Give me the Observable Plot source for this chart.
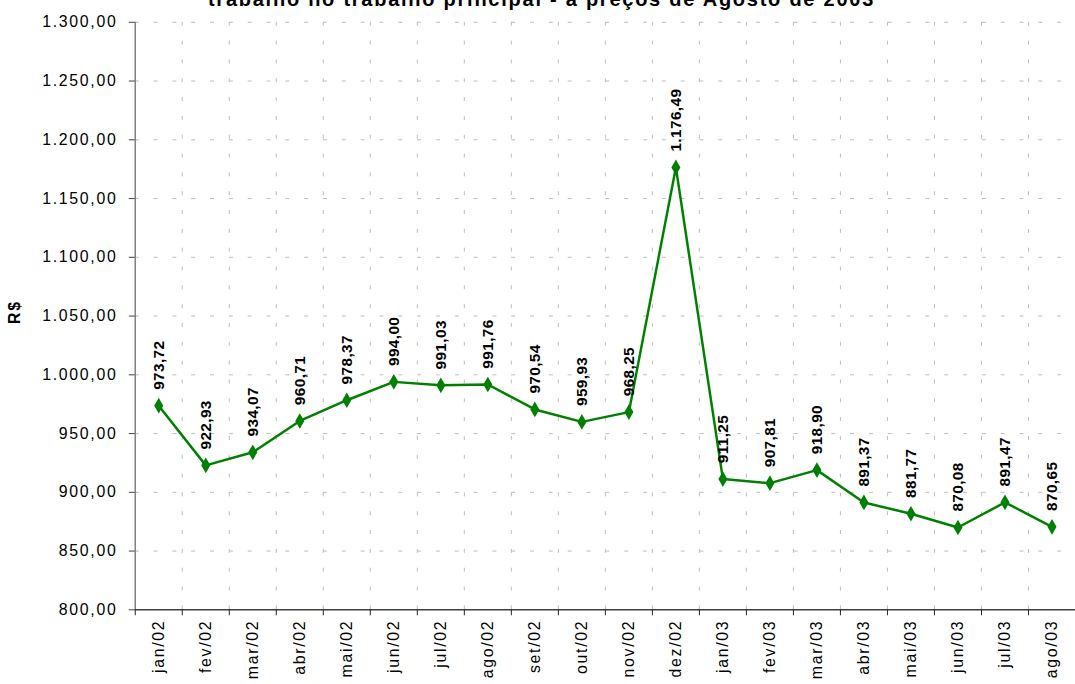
<!DOCTYPE html>
<html>
<head>
<meta charset="utf-8">
<script src="https://cdn.jsdelivr.net/npm/d3@7"></script>
<script src="https://cdn.jsdelivr.net/npm/@observablehq/plot@0.6"></script>
<style>
  html, body { margin: 0; padding: 0; background: #fff; overflow: hidden; width: 1075px; height: 684px; }
  #wrap { position: relative; width: 1075px; height: 684px; overflow: hidden; }
  #title { position: absolute; z-index: 2; left: 0; width: 1083px; top: -13px; text-align: center;
           font-family: "Liberation Sans", Arial, sans-serif; font-weight: bold; font-size: 20px;
           line-height: 24px; letter-spacing: 1.75px; color: #000; white-space: nowrap; }
  #chart { position: absolute; z-index: 1; left: 0; top: 0; }
  #chart svg text { letter-spacing: 1.7px; }
  #chart svg g.vals text { letter-spacing: 0.4px; }
</style>
</head>
<body>
<div id="wrap">
  <div id="chart"></div>
  <div id="title">trabalho no trabalho principal - a preços de Agosto de 2003</div>
</div>
<script>
const months = ["jan/02","fev/02","mar/02","abr/02","mai/02","jun/02","jul/02","ago/02","set/02","out/02","nov/02","dez/02",
                "jan/03","fev/03","mar/03","abr/03","mai/03","jun/03","jul/03","ago/03"];
const values = [973.72, 922.93, 934.07, 960.71, 978.37, 994.00, 991.03, 991.76, 970.54, 959.93, 968.25, 1176.49,
                911.25, 907.81, 918.90, 891.37, 881.77, 870.08, 891.47, 870.65];
const yTicks = [800, 850, 900, 950, 1000, 1050, 1100, 1150, 1200, 1250, 1300];
const yLabel = "R$";

const fmt = v => d3.format(",.2f")(v).replace(/,/g, "#").replace(/\./g, ",").replace(/#/g, ".");
const data = months.map((m, i) => ({i, m, v: values[i]}));
const idx = months.map((m, i) => i);
const bounds = months.map((m, i) => i + 0.5).concat([-0.5]);

const chart = Plot.plot({
  width: 1085,
  height: 700,
  marginLeft: 136,
  marginRight: 0,
  marginTop: 22,
  marginBottom: 85,
  style: {fontFamily: "'Liberation Sans', Arial, sans-serif", fontSize: "16px", color: "#000", background: "#fff"},
  x: {type: "linear", domain: [-0.5, months.length - 0.5]},
  y: {domain: [800, 1300]},
  marks: [
    Plot.ruleY(yTicks.slice(1), {stroke: "#bdbdbd", strokeDasharray: "4,15", strokeWidth: 1}),
    Plot.ruleX(bounds.slice(0, months.length - 1), {stroke: "#bdbdbd", strokeDasharray: "4,15", strokeWidth: 1, y1: 1300, y2: 800}),
    Plot.ruleX([-0.5], {stroke: "#808080", strokeWidth: 1.5, y1: 800, y2: 1300}),
    Plot.ruleY([800], {stroke: "#404040", strokeWidth: 1.5}),
    Plot.axisY({ticks: yTicks, tickFormat: fmt, tickSize: 6, tickPadding: 12, stroke: "#404040", label: null}),
    Plot.axisX({ticks: bounds, tickFormat: () => "", tickSize: 6, stroke: "#202020", label: null}),
    Plot.axisX({ticks: idx, tickFormat: i => months[i], tickSize: 0, tickPadding: 10, tickRotate: -90, label: null}),
    Plot.line(data, {x: "i", y: "v", stroke: "#008000", strokeWidth: 2.5}),
    Plot.dot(data, {x: "i", y: "v", symbol: "diamond", r: 4.8, fill: "#008000", stroke: "none"}),
    Plot.text(data, {x: "i", y: "v", text: d => fmt(d.v), rotate: -90, textAnchor: "start", dy: -16,
      fontWeight: "bold", fontSize: 15.5, fill: "#000", className: "vals"})
  ]
});

// y label
const svg = d3.select(chart);
svg.append("text")
  .attr("transform", "translate(20,315) rotate(-90)")
  .attr("text-anchor", "middle")
  .attr("font-weight", "bold")
  .attr("font-size", 16)
  .attr("letter-spacing", "0.5px")
  .attr("font-family", "'Liberation Sans', Arial, sans-serif")
  .text(yLabel);

document.getElementById("chart").appendChild(chart);
</script>
</body>
</html>
